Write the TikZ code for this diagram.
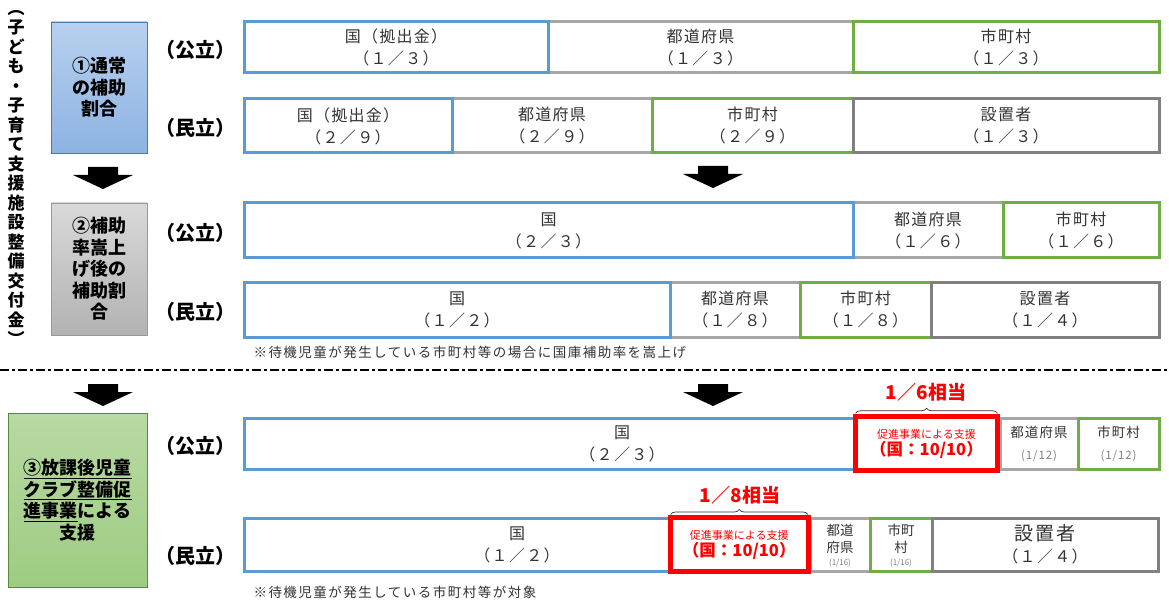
\documentclass[tikz,border=0pt]{standalone}
\usepackage{fontspec}
\setmainfont{Noto Sans CJK JP}
\usetikzlibrary{decorations.pathreplacing}
\definecolor{bluec}{HTML}{5B9BD5}
\definecolor{grayl}{HTML}{A6A6A6}
\definecolor{grayd}{HTML}{808080}
\definecolor{greenc}{HTML}{70AD47}
\definecolor{redc}{HTML}{FF0000}
\definecolor{txt}{HTML}{333333}
\newcommand\segfont{\fontsize{16}{22}\selectfont\addfontfeature{LetterSpace=8}}
\newcommand\segnode[7]{\node[seg=#2, minimum width={#5-#3}, minimum height={#6-#4}] (#1) at ({(#3+#5)/2},{(#4+#6)/2}) {#7};}
\newcommand\blkarrow[2]{\fill (#1-15,#2) -- (#1+15,#2) -- (#1+15,#2+8) -- (#1+30,#2+8) -- (#1,#2+22) -- (#1-30,#2+8) -- (#1-15,#2+8) -- cycle;}
\tikzset{
  seg/.style={draw=#1, line width=3pt, fill=white, inner sep=0pt, outer sep=0pt, align=center, text=txt, font=\segfont},
  redbox/.style={draw=redc, line width=5pt, fill=white, inner sep=0pt, outer sep=0pt, align=center, text=redc},
  lab/.style={font=\fontsize{20}{24}\selectfont\bfseries},
  side/.style={draw=#1, line width=0.8pt, inner sep=0pt, align=center, font=\fontsize{18}{21.5}\selectfont\bfseries},
  note/.style={anchor=west, text=txt, font=\fontsize{13.5}{16}\selectfont\addfontfeature{LetterSpace=11}},
  share/.style={text=redc, font=\fontsize{19}{22}\selectfont\bfseries},
  small/.style={inner sep=0pt, align=center, text=txt, font=\fontsize{13.5}{17}\selectfont},
  tiny/.style={inner sep=0pt, text=grayd, font=\fontsize{8}{9}\selectfont},
  brace/.style={decorate, decoration={brace, amplitude=5pt}, line width=0.7pt, draw=black!80}
}
\begin{document}
\begin{tikzpicture}[x=1pt,y=-1pt]
\useasboundingbox[fill=white] (0,0) rectangle (1169,612);

% vertical title
\node[font=\fontsize{17}{19.5}\selectfont\bfseries, align=center, inner sep=0pt] (title) at (16,178)
 {︵\\子\\ど\\も\\・\\子\\育\\て\\支\\援\\施\\設\\整\\備\\交\\付\\金\\︶};

% left boxes
\node[side={bluec!80!black}, top color={rgb,255:red,184;green,208;blue,238}, bottom color={rgb,255:red,141;green,179;blue,226}, minimum width=96, minimum height=131] (s1) at (99,87.5) {①通常\\の補助\\割合};
\node[side={black!40}, top color=black!15, bottom color=black!30, minimum width=96, minimum height=132] (s2) at (99,269) {②補助\\率嵩上\\げ後の\\補助割\\合};
\node[side={greenc!80!black}, top color={rgb,255:red,184;green,217;blue,163}, bottom color={rgb,255:red,158;green,204;blue,130}, minimum width=139, minimum height=174] (s3) at (77.5,500)
 {\underline{③放課後児童}\\\underline{クラブ整備促}\\\underline{進事業}による\\支援};

% row labels
\node[lab] (l1) at (195,50) {（公立）};
\node[lab] (l2) at (195,128) {（民立）};
\node[lab] (l3) at (195,233) {（公立）};
\node[lab] (l4) at (195,312) {（民立）};
\node[lab] (l5) at (195,446) {（公立）};
\node[lab] (l6) at (195,556) {（民立）};

% row 1
\segnode{r1b}{grayl}{548}{22}{853}{73}{都道府県\\（１／３）}
\segnode{r1a}{bluec}{244}{22}{548}{73}{国（拠出金）\\（１／３）}
\segnode{r1c}{greenc}{853}{22}{1159}{73}{市町村\\（１／３）}
% row 2
\segnode{r2b}{grayl}{452}{99}{652}{153}{都道府県\\（２／９）}
\segnode{r2a}{bluec}{244}{99}{452}{153}{国（拠出金）\\（２／９）}
\segnode{r2c}{greenc}{652}{99}{853}{153}{市町村\\（２／９）}
\segnode{r2d}{grayd}{853}{99}{1159}{153}{設置者\\（１／３）}
% row 3
\segnode{r3b}{grayl}{853}{203}{1003}{258}{都道府県\\（１／６）}
\segnode{r3a}{bluec}{244}{203}{853}{258}{国\\（２／３）}
\segnode{r3c}{greenc}{1003}{203}{1159}{258}{市町村\\（１／６）}
% row 4
\segnode{r4b}{grayl}{670}{282}{800}{337}{都道府県\\（１／８）}
\segnode{r4a}{bluec}{244}{282}{670}{337}{国\\（１／２）}
\segnode{r4c}{greenc}{800}{282}{931}{337}{市町村\\（１／８）}
\segnode{r4d}{grayd}{931}{282}{1159}{337}{設置者\\（１／４）}
\node[note] (n1) at (250,352) {※待機児童が発生している市町村等の場合に国庫補助率を嵩上げ};

% arrows
\blkarrow{103}{167}
\blkarrow{713}{166}
\blkarrow{103}{384}
\blkarrow{713}{384}

% divider
\draw[line width=2.2pt, dash pattern=on 9pt off 3pt on 3pt off 3pt] (0,370) -- (1169,370);

% row 5
\segnode{r5a}{bluec}{244}{418}{1000}{469}{国\\（２／３）}
\segnode{r5b}{grayl}{1000}{418}{1078}{469}{\fontsize{13.5}{18}\selectfont 都道府県\\\fontsize{11.5}{14}\selectfont\color{grayd}(1/12)}
\segnode{r5c}{greenc}{1078}{418}{1159}{469}{\fontsize{13.5}{18}\selectfont 市町村\\\fontsize{11.5}{14}\selectfont\color{grayd}(1/12)}
\node[redbox, minimum width=142, minimum height=54.5] (r5r) at (926.5,443.5)
 {\fontsize{11}{14}\selectfont 促進事業による支援\\[1pt]\fontsize{16.5}{20}\selectfont\bfseries （国：10/10）};
\draw[brace] (r5r.north west) ++(0,-3) coordinate (b5a) -- (b5a -| r5r.north east);
\node[share] (t5) at (926,392) {1／6相当};

% row 6
\segnode{r6a}{bluec}{244}{518}{790}{571}{国\\（１／２）}
\segnode{r6b}{grayl}{810}{518}{870}{571}{}
\segnode{r6c}{greenc}{870}{518}{932}{571}{}
\node[small] (r6bt) at (840,539) {都道\\府県};
\node[tiny] (r6bf) at (840,563) {(1/16)};
\node[small] (r6ct) at (901,539) {市町\\村};
\node[tiny] (r6cf) at (901,563) {(1/16)};
\segnode{r6d}{grayd}{932}{518}{1158}{571}{\fontsize{19}{24}\selectfont 設置者\\（１／４）}
\node[redbox, minimum width=137.5, minimum height=54] (r6r) at (739.25,544.5)
 {\fontsize{11}{14}\selectfont 促進事業による支援\\[1pt]\fontsize{16.5}{20}\selectfont\bfseries （国：10/10）};
\draw[brace] (r6r.north west) ++(0,-3) coordinate (b6a) -- (b6a -| r6r.north east);
\node[share] (t6) at (740,495) {1／8相当};
\node[note] (n2) at (250,592) {※待機児童が発生している市町村等が対象};
\end{tikzpicture}
\end{document}
